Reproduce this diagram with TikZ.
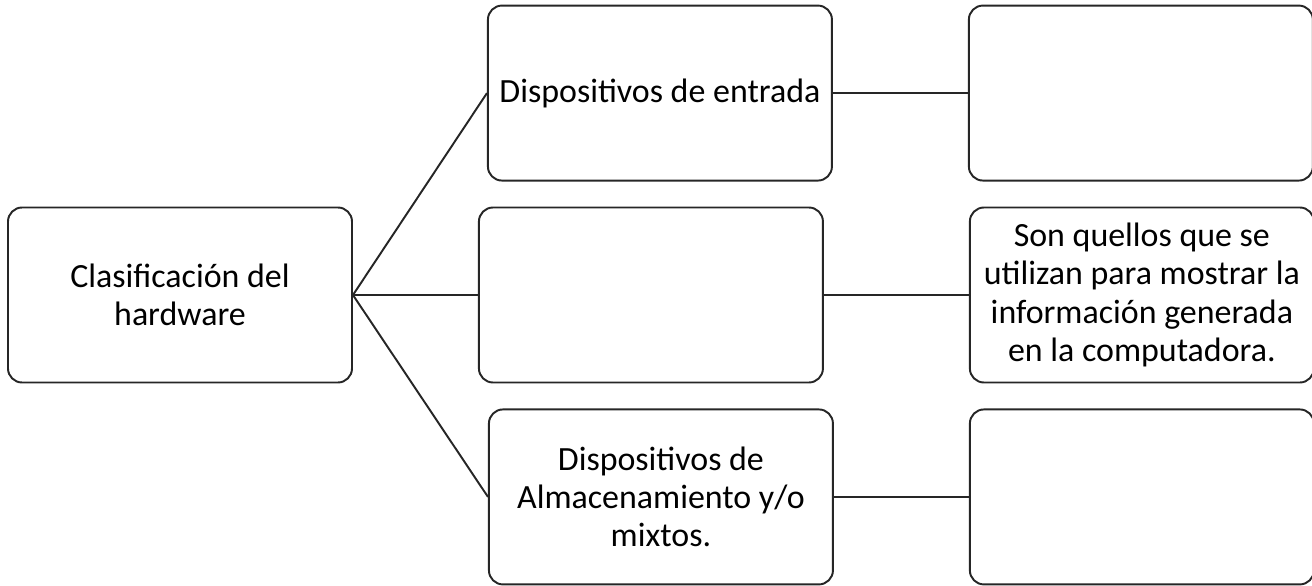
\documentclass[tikz,border=0pt]{standalone}
\usepackage{fontspec}
\setmainfont{Carlito}
\usetikzlibrary{positioning}

\begin{document}
\begin{tikzpicture}[
  node distance=0.5cm,
  caja/.style={draw=black!85,line width=1.1pt,fill=white,rounded corners=8pt,align=center,minimum width=6.88cm,minimum height=3.5cm,inner sep=2pt,font=\fontsize{19.3}{21.8}\selectfont},
  linea/.style={draw=black!85,line width=1.1pt}
]
  \useasboundingbox (-3.6,-5.82) rectangle (22.64,5.9);

  \node[caja] (clasif) {Clasificación del\\hardware};
  \node[caja,right=2.5cm of clasif] (medio) {};
  \node[caja,above=0.5cm of medio,xshift=0.18cm] (entrada) {Dispositivos de entrada};
  \node[caja,below=0.5cm of medio,xshift=0.2cm] (almacen) {Dispositivos de\\Almacenamiento y/o\\mixtos.};

  \node[caja,right=2.9cm of medio] (salida) {Son quellos que se\\utilizan para mostrar la\\información generada\\en la computadora.};
  \node[caja,right=2.7cm of entrada] (resp1) {};
  \node[caja,right=2.7cm of almacen] (resp3) {};

  \draw[linea] (clasif.east) -- (entrada.west);
  \draw[linea] (clasif.east) -- (medio.west);
  \draw[linea] (clasif.east) -- (almacen.west);
  \draw[linea] (entrada) -- (resp1);
  \draw[linea] (medio) -- (salida);
  \draw[linea] (almacen) -- (resp3);
\end{tikzpicture}
\end{document}
